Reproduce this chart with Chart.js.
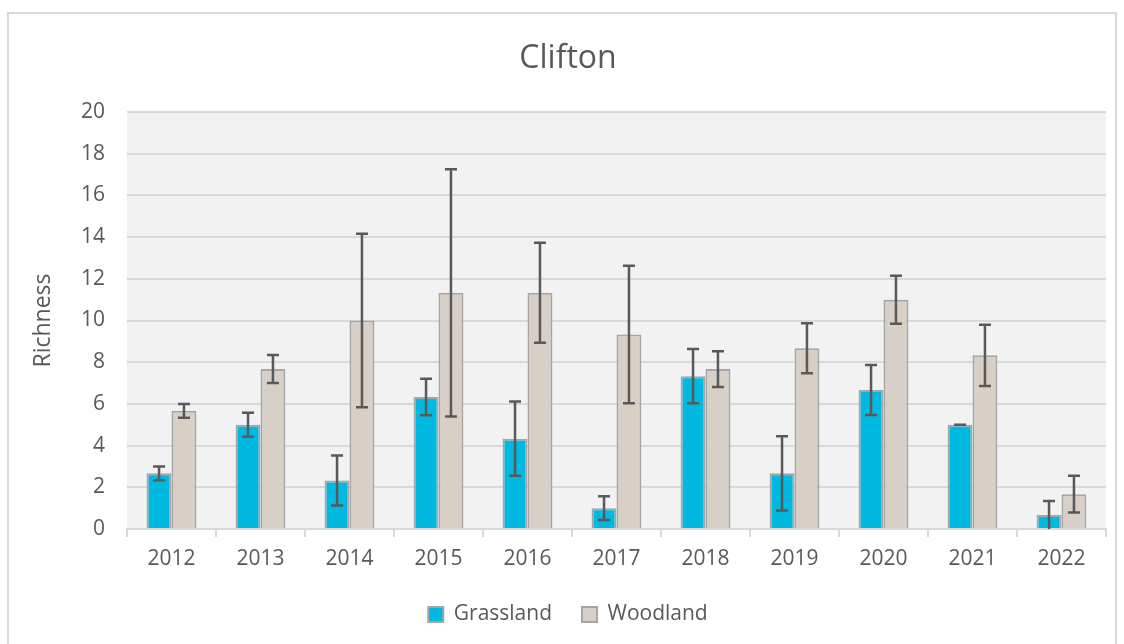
<!DOCTYPE html>
<html>
<head>
<meta charset="utf-8">
<script src="https://cdn.jsdelivr.net/npm/chart.js@4/dist/chart.umd.min.js"></script>
<style>
	html, body { margin: 0; padding: 0; background: #fff; }
	#frame { position: absolute; left: 7px; top: 12px; width: 1110px; height: 640px; border: 2px solid #D9D9D9; box-sizing: border-box; }
	#wrap { position: absolute; left: 0; top: 0; width: 1124px; height: 644px; }
</style>
</head>
<body>
<div id="frame"></div>
<div id="wrap"><canvas id="chart" width="1124" height="644"></canvas></div>
<script>

// values
var years = ['2012', '2013', '2014', '2015', '2016', '2017', '2018', '2019', '2020', '2021', '2022'];
var grassland = [2.67, 5, 2.33, 6.33, 4.33, 1, 7.33, 2.67, 6.67, 5, 0.67];
var grasslandErr = [0.33, 0.58, 1.2, 0.88, 1.78, 0.57, 1.3, 1.78, 1.2, 0, 0.67];
var woodland = [5.67, 7.67, 10, 11.33, 11.33, 9.33, 7.67, 8.67, 11, 8.33, 1.67];
var woodlandErr = [0.33, 0.67, 4.16, 5.93, 2.4, 3.3, 0.86, 1.2, 1.15, 1.47, 0.88];

var textColor = '#595959';
var gridColor = '#D9D9D9';
var fontFamily = '"Open Sans", "Noto Sans", sans-serif';

// grey plot area behind the bars
var plotBackground = {
	id: 'plotBackground',
	beforeDraw: function(chart){
		var a = chart.chartArea;
		var ctx = chart.ctx;
		ctx.save();
		ctx.fillStyle = '#F2F2F2';
		ctx.fillRect(a.left, a.top, a.right - a.left, a.bottom - a.top);
		ctx.restore();
	}
};

// error bars, one per bar, taken from dataset.errors
var errorBars = {
	id: 'errorBars',
	afterDatasetsDraw: function(chart){
		var ctx = chart.ctx;
		var yScale = chart.scales.y;
		ctx.save();
		ctx.strokeStyle = '#595959';
		ctx.lineWidth = 2.5;
		chart.data.datasets.forEach(function(ds, i){
			var meta = chart.getDatasetMeta(i);
			meta.data.forEach(function(bar, j){
				var v = ds.data[j];
				var e = ds.errors[j];
				var top = yScale.getPixelForValue(v + e);
				var bot = yScale.getPixelForValue(Math.max(0, v - e));
				var x = bar.x;
				var cap = 6;
				ctx.beginPath();
				ctx.moveTo(x, top); ctx.lineTo(x, bot);
				ctx.moveTo(x - cap, top); ctx.lineTo(x + cap, top);
				if (v - e > 0) {
					ctx.moveTo(x - cap, bot); ctx.lineTo(x + cap, bot);
				}
				ctx.stroke();
			});
		});
		ctx.restore();
	}
};

new Chart(document.getElementById('chart'), {
	type: 'bar',
	data: {
		labels: years,
		datasets: [
			{
				label: 'Grassland',
				data: grassland,
				errors: grasslandErr,
				backgroundColor: '#00B9E0',
				borderColor: '#A6A6A6',
				borderWidth: 2
			},
			{
				label: 'Woodland',
				data: woodland,
				errors: woodlandErr,
				backgroundColor: '#D8CFC6',
				borderColor: '#A6A6A6',
				borderWidth: 2
			}
		]
	},
	options: {
		responsive: false,
		animation: false,
		datasets: { bar: { categoryPercentage: 0.56, barPercentage: 1 } },
		layout: { padding: { left: 30, right: 18, top: 0, bottom: 9 } },
		plugins: {
			title: {
				display: true,
				text: 'Clifton',
				color: textColor,
				font: { family: fontFamily, size: 32, weight: 'normal' },
				padding: { top: 40, bottom: 33.6 }
			},
			legend: {
				position: 'bottom',
				labels: {
					color: textColor,
					font: { family: fontFamily, size: 21 },
					boxWidth: 15,
					boxHeight: 15,
					padding: 30
				}
			},
			tooltip: { enabled: false }
		},
		scales: {
			x: {
				grid: { display: true, drawOnChartArea: false, drawTicks: true, tickLength: 8, color: gridColor, lineWidth: 2 },
				border: { color: gridColor, width: 2 },
				ticks: { color: textColor, font: { family: fontFamily, size: 21 }, padding: 9 },
				afterFit: function(scale){ scale.height = 45; }
			},
			y: {
				min: 0,
				max: 20,
				ticks: { stepSize: 2, color: textColor, font: { family: fontFamily, size: 21 }, padding: 22 },
				grid: { color: gridColor, lineWidth: 2, drawTicks: false },
				border: { display: false },
				title: {
					display: true,
					text: 'Richness',
					color: textColor,
					font: { family: fontFamily, size: 23 },
					padding: { top: 0, bottom: 0 }
				},
				afterFit: function(scale){ scale.width = 97; }
			}
		}
	},
	plugins: [plotBackground, errorBars]
});
</script>
</body>
</html>
